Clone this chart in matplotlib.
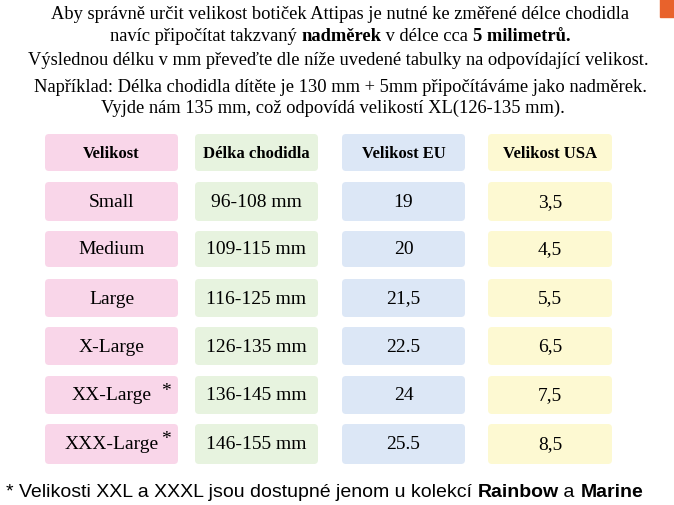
import matplotlib
matplotlib.use("Agg")
import matplotlib.pyplot as plt
from matplotlib.patches import FancyBboxPatch, Rectangle

headers = ["Velikost", "Délka chodidla", "Velikost EU", "Velikost USA"]
sizes = ["Small", "Medium", "Large", "X-Large", "XX-Large", "XXX-Large"]
stars = [False, False, False, False, True, True]
lengths = ["96-108 mm", "109-115 mm", "116-125 mm", "126-135 mm", "136-145 mm", "146-155 mm"]
eu = ["19", "20", "21,5", "22.5", "24", "25.5"]
usa = ["3,5", "4,5", "5,5", "6,5", "7,5", "8,5"]

col_x = [(45, 178), (195, 318), (342, 465), (488, 612)]
col_c = ["#f9d6e9", "#e7f3df", "#dce7f6", "#fdf9d2"]
row_y = [(135, 172), (183, 222), (232, 268), (280, 318), (328, 366), (377, 415), (425, 465)]

fig = plt.figure(figsize=(6.74, 5.06), dpi=100)
ax = fig.add_axes([0, 0, 1, 1])
ax.set_xlim(0, 674)
ax.set_ylim(506, 0)
ax.axis("off")
serif = "Liberation Serif"

ax.add_patch(Rectangle((660, 0), 14, 18, color="#e8622c"))

def rich(y, parts, size=12, family=serif, cx=None, x0=None):
    fig.canvas.draw()
    r = fig.canvas.get_renderer()
    objs = []
    for s, b in parts:
        t = ax.text(0, y, s, fontsize=size, family=family,
                    fontweight="bold" if b else "normal", va="center", ha="left")
        objs.append(t)
    widths = [t.get_window_extent(r).width for t in objs]
    total = sum(widths)
    x = (cx - total / 2) if cx is not None else x0
    for t, w in zip(objs, widths):
        t.set_x(x)
        x += w

rich(14, [("Aby správně určit velikost botiček Attipas je nutné ke změřené délce chodidla", False)], size=13.3, cx=340)
rich(36, [("navíc připočítat takzvaný ", False), ("nadměrek", True), (" v délce cca ", False), ("5 milimetrů.", True)], size=13.3, cx=340)
rich(60, [("Výslednou délku v mm převeďte dle níže uvedené tabulky na odpovídající velikost.", False)], size=13.3, cx=338)
rich(87, [("Například: Délka chodidla dítěte je 130 mm + 5mm připočítáváme jako nadměrek.", False)], size=13.3, cx=340)
rich(108, [("Vyjde nám 135 mm, což odpovídá velikostí XL(126-135 mm).", False)], size=13.3, cx=333)
rich(493, [("* Velikosti XXL a XXXL jsou dostupné jenom u kolekcí ", False), ("Rainbow", True), (" a ", False), ("Marine", True)],
     size=14, family="Liberation Sans", x0=6)

columns = [sizes, lengths, eu, usa]
for ci, ((x0, x1), c) in enumerate(zip(col_x, col_c)):
    for ri, (y0, y1) in enumerate(row_y):
        ax.add_patch(FancyBboxPatch((x0 + 4, y0 + 4), x1 - x0 - 8, y1 - y0 - 8,
                                    boxstyle="round,pad=4", fc=c, ec="none"))
        cx, cy = (x0 + x1) / 2, (y0 + y1) / 2
        if ri == 0:
            ax.text(cx, cy, headers[ci], fontsize=12, family=serif, fontweight="bold",
                    ha="center", va="center")
        else:
            ax.text(cx, cy, columns[ci][ri - 1], fontsize=14, family=serif,
                    ha="center", va="center")
            if ci == 0 and stars[ri - 1]:
                ax.text(x1 - 12, y0 + 6, "*", fontsize=14, family=serif, ha="center", va="top")

fig.savefig("out.png", dpi=100)
